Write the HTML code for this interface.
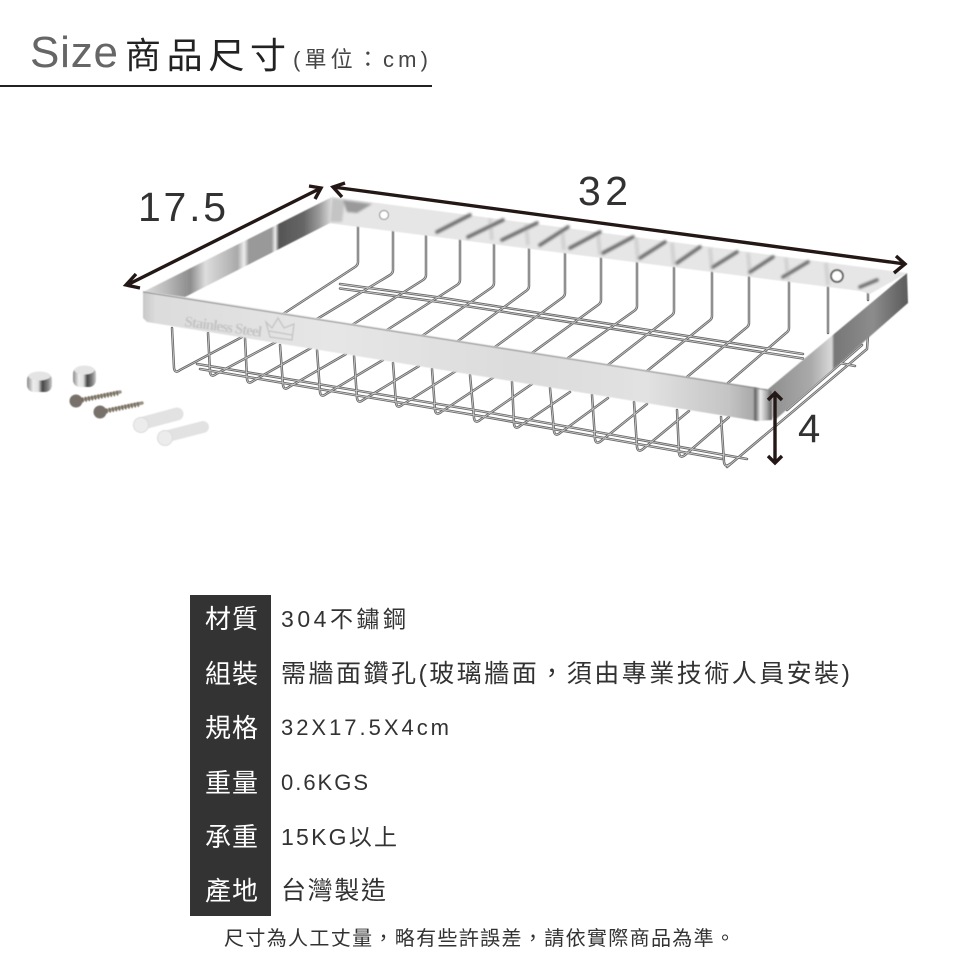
<!DOCTYPE html>
<html lang="zh-Hant">
<head>
<meta charset="utf-8">
<style>
html,body{margin:0;padding:0;background:#fff}
svg{display:block}
.cjk{font-family:"Liberation Sans","Noto Sans CJK TC",sans-serif}
</style>
</head>
<body>
<svg width="960" height="960" viewBox="0 0 960 960" xmlns="http://www.w3.org/2000/svg" class="cjk">
<defs>
<filter id="b1" x="-5%" y="-5%" width="110%" height="110%"><feGaussianBlur stdDeviation="1"/></filter>
<filter id="b0" x="-5%" y="-5%" width="110%" height="110%"><feGaussianBlur stdDeviation=".4"/></filter>
<filter id="bw" x="-5%" y="-5%" width="110%" height="110%"><feGaussianBlur stdDeviation=".2"/></filter>
<filter id="bt" x="-5%" y="-20%" width="110%" height="140%"><feGaussianBlur stdDeviation=".25"/></filter>
<linearGradient id="front" x1="143" y1="0" x2="773" y2="0" gradientUnits="userSpaceOnUse">
<stop offset="0" stop-color="#c8c8c8"/><stop offset=".02" stop-color="#dcdcdc"/><stop offset=".3" stop-color="#e6e6e6"/>
<stop offset=".6" stop-color="#dcdcdc"/><stop offset=".8" stop-color="#e2e2e2"/><stop offset=".93" stop-color="#c4c4c4"/>
<stop offset=".968" stop-color="#aaa"/><stop offset=".972" stop-color="#666"/><stop offset=".98" stop-color="#eee"/>
<stop offset=".99" stop-color="#aaa"/><stop offset=".997" stop-color="#666"/><stop offset="1" stop-color="#ccc"/>
</linearGradient>
<linearGradient id="right" x1="770" y1="0" x2="907" y2="0" gradientUnits="userSpaceOnUse">
<stop offset="0" stop-color="#8f8f8f"/><stop offset=".3" stop-color="#aaa"/><stop offset=".45" stop-color="#d8d8d8"/>
<stop offset=".47" stop-color="#777"/><stop offset=".75" stop-color="#8c8c8c"/><stop offset="1" stop-color="#5c5c5c"/>
</linearGradient>
<linearGradient id="left" x1="143" y1="0" x2="332" y2="0" gradientUnits="userSpaceOnUse">
<stop offset="0" stop-color="#ddd"/><stop offset=".12" stop-color="#bbb"/><stop offset=".25" stop-color="#8c8c8c"/>
<stop offset=".33" stop-color="#ddd"/><stop offset=".5" stop-color="#aaa"/><stop offset=".535" stop-color="#eee"/>
<stop offset=".56" stop-color="#999"/><stop offset=".68" stop-color="#999"/><stop offset=".7" stop-color="#eee"/>
<stop offset=".72" stop-color="#555"/><stop offset=".85" stop-color="#666"/><stop offset=".93" stop-color="#999"/><stop offset="1" stop-color="#ddd"/>
</linearGradient>
<linearGradient id="cap" x1="0" y1="0" x2="1" y2="0">
<stop offset="0" stop-color="#8a8a8a"/><stop offset=".25" stop-color="#eee"/><stop offset=".45" stop-color="#e0e0e0"/><stop offset=".62" stop-color="#444"/><stop offset=".85" stop-color="#888"/><stop offset="1" stop-color="#ccc"/>
</linearGradient>
<g id="wires" fill="none" stroke-linecap="round" stroke-linejoin="round">
<!-- bottom rails -->
<path d="M197 364L480 411 747 459M200 369L480 416 722 459"/>
<!-- side rail -->
<path d="M727 467L867 349 868 335M787 410L862 345M840 363L855 366"/>
<!-- front U wires -->
<path d="M172 328L174 368Q175 374 180 370L242 337"/>
<path d="M208 333L210 372Q211 378 216 374L276 342"/>
<path d="M245 338L247 379Q248 385 253 381L311 348"/>
<path d="M280 345L283 385Q284 391 289 387L346 354"/>
<path d="M317 350L320 392Q321 398 326 394L383 360"/>
<path d="M354 356L357 398Q358 404 363 400L419 366"/>
<path d="M393 363L396 403Q397 409 402 405L456 371"/>
<path d="M432 369L435 410Q436 416 441 412L494 377"/>
<path d="M470 375L474 418Q475 424 480 420L532 384"/>
<path d="M512 382L514 424Q515 430 520 426L570 392"/>
<path d="M550 388L554 431Q555 437 560 433L608 398"/>
<path d="M592 395L595 439Q596 445 601 441L647 404"/>
<path d="M634 402L637 447Q638 453 643 449L689 411"/>
<path d="M677 410L679 453Q680 459 685 455L729 417"/>
<path d="M721 417L724 462Q725 468 730 464"/>
<!-- floor rails -->
<path d="M340 284L443 298 803 354M340 288.500L443 302.500 803 358.500"/>
<!-- back wires -->
<path d="M358 222L358 262Q358 265 355 267L283 314"/>
<path d="M393 229L393 270Q393 273 390 275L317 319"/>
<path d="M426 233L426 275Q426 278 423 280L352 325"/>
<path d="M460 238L460 280Q460 283 457 285L387 330"/>
<path d="M494 243L494 283Q494 286 491 288L422 336"/>
<path d="M529 247L529 286Q529 289 526 291L458 341"/>
<path d="M565 252L565 293Q565 296 562 298L495 347"/>
<path d="M601 257L601 300Q601 303 598 305L532 353"/>
<path d="M637 262L637 306Q637 309 634 311L568 358"/>
<path d="M674 267L674 311Q674 314 671 316L608 365"/>
<path d="M712 272L712 316Q712 319 709 321L647 371"/>
<path d="M749 277L749 323Q749 326 746 328L687 377"/>
<path d="M789 282L789 328Q789 331 786 333L728 383"/>
<path d="M828 287L828 333"/>
<path d="M868 292L868 300"/>
</g>
</defs>

<g filter="url(#bt)">
<!-- title -->
<text x="30" y="67" font-size="44" fill="#666" textLength="88" lengthAdjust="spacing">Size</text>
<text x="125" y="68" font-size="36" fill="#222" textLength="161" lengthAdjust="spacing">商品尺寸</text>
<text x="293" y="67" font-size="22" fill="#444" textLength="135" lengthAdjust="spacing">(單位：cm)</text>
</g>
<rect x="0" y="85" width="432" height="2" fill="#222"/>

<!-- basket wires -->
<g filter="url(#bw)">
<use href="#wires" stroke="#6a6a6a" stroke-width="2.5"/>
<use href="#wires" stroke="#d8d8d8" stroke-width=".7"/>
</g>

<g filter="url(#b0)">
<!-- back bar -->
<polygon points="332,197 907,273 870,294 860,291 328,223" fill="#e6e6e6"/>
<g filter="url(#b1)">
<polygon points="332,198 345,200 342,222 330,222" fill="#c4c4c4"/>
<polygon points="343,200 372,204 357,213 347,212" fill="#9a9a9a"/>
<g stroke="#d2d2d2" stroke-width="4" fill="none">
<path d="M490 219L492 240M526 224L528 245M562 228L564 250M598 233L600 255M636 238L638 260M672 243L674 265M710 248L712 270M748 253L750 275M786 258L788 280M826 263L828 285"/>
</g>
<g stroke="#6e6e6e" stroke-width="3.6" fill="none" stroke-linecap="round">
<path d="M437 232L470 215M468 237L503 220M502 240L537 223M540 245L568 227M570 248L600 232M603 253L633 237M640 258L665 242M677 263L700 247M713 267L737 252M750 272L773 257M783 277L808 262M860 287L877 280"/>
</g>
</g>
<circle cx="384" cy="215" r="4.5" fill="#fff" stroke="#999" stroke-width="1.2"/>
<circle cx="837" cy="276" r="6" fill="#fff" stroke="#666" stroke-width="2"/>

<!-- left bar -->
<polygon points="143,292 332,197 330,223 185,297" fill="url(#left)"/>
<!-- right bar -->
<polygon points="767,390 907,273 908,303 775,420 772,400" fill="url(#right)"/>
<!-- front bar -->
<polygon points="143,291 185,297 767,389 773,392 775,412 772,420 757,421 147,322 143,318" fill="url(#front)"/>
<path d="M143 292L767 390" stroke="#8a8a8a" stroke-width="1" fill="none"/>

<!-- embossed label -->
<text x="184" y="326" font-size="15" font-family="Liberation Serif,serif" font-weight="bold" fill="#c4c4c4" transform="rotate(8 184 326)" textLength="78" lengthAdjust="spacing">Stainless Steel</text>
<path d="M270 337L266 322 272 328 278 318 284 328 294 324 292 340ZM269 331L292 335" fill="none" stroke="#c4c4c4" stroke-width="1.3"/>

<!-- caps -->
<rect x="27" y="373" width="25" height="19" rx="7" fill="url(#cap)"/>
<ellipse cx="39.5" cy="376" rx="11" ry="4.5" fill="#e4e4e4"/>
<rect x="73" y="367" width="23" height="20" rx="7" fill="url(#cap)"/>
<ellipse cx="84.5" cy="370" rx="10" ry="4.5" fill="#e4e4e4"/>

<!-- screws -->
<path d="M76 401L120 392" stroke="#9a9284" stroke-width="3.4" stroke-linecap="round"/>
<path d="M82 400L118 393" stroke="#6f685c" stroke-width="5" stroke-dasharray="1.4 1.8"/>
<ellipse cx="76" cy="401" rx="6.5" ry="6.5" fill="#77716a"/>
<path d="M100 412L142 403" stroke="#9a9284" stroke-width="3.4" stroke-linecap="round"/>
<path d="M106 411L140 404" stroke="#6f685c" stroke-width="5" stroke-dasharray="1.4 1.8"/>
<ellipse cx="100" cy="412" rx="6.5" ry="6.5" fill="#77716a"/>

<!-- wall plugs -->
<path d="M140 424L177 414" stroke="#e2e2e2" stroke-width="13" stroke-linecap="round"/>
<circle cx="141" cy="425" r="7.5" fill="#ececec" stroke="#dadada"/>
<path d="M164 437L203 427" stroke="#e2e2e2" stroke-width="12" stroke-linecap="round"/>
<circle cx="165" cy="438" r="7.5" fill="#ececec" stroke="#dadada"/>
</g>

<!-- dimension arrows -->
<g fill="none" stroke="#231815" stroke-width="3.4">
<path d="M127 285L321 188"/>
<path d="M136 274L126 285 140 288"/>
<path d="M309 186L321 188 315 199"/>
<path d="M333 187L905 264"/>
<path d="M345 183L333 187 342 197"/>
<path d="M896 256L905 264 894 273"/>
<path d="M775 393V463"/>
<path d="M768 400L775 393 782 400"/>
<path d="M768 456L775 463 782 456"/>
</g>
<g filter="url(#bt)">
<text x="138" y="221" font-size="41" fill="#333" textLength="88" lengthAdjust="spacing">17.5</text>
<text x="578" y="205" font-size="41" fill="#333" textLength="50" lengthAdjust="spacing">32</text>
<text x="798" y="442" font-size="40" fill="#333">4</text>
</g>

<!-- table -->
<rect x="190" y="595" width="81" height="321" fill="#333"/>
<g font-size="26" fill="#fff" filter="url(#bt)">
<text x="205" y="628" textLength="53" lengthAdjust="spacing">材質</text>
<text x="205" y="683" textLength="53" lengthAdjust="spacing">組裝</text>
<text x="205" y="737" textLength="53" lengthAdjust="spacing">規格</text>
<text x="205" y="792" textLength="53" lengthAdjust="spacing">重量</text>
<text x="205" y="846" textLength="53" lengthAdjust="spacing">承重</text>
<text x="205" y="900" textLength="53" lengthAdjust="spacing">產地</text>
</g>
<g fill="#333" filter="url(#bt)">
<text x="281" y="627" font-size="23" textLength="125" lengthAdjust="spacing">304不鏽鋼</text>
<text x="281" y="682" font-size="25" textLength="569" lengthAdjust="spacing">需牆面鑽孔(玻璃牆面，須由專業技術人員安裝)</text>
<text x="281" y="735" font-size="22" textLength="168" lengthAdjust="spacing">32X17.5X4cm</text>
<text x="281" y="790" font-size="22" textLength="87" lengthAdjust="spacing">0.6KGS</text>
<text x="281" y="845" font-size="23" textLength="116" lengthAdjust="spacing">15KG以上</text>
<text x="281" y="899" font-size="25" textLength="105" lengthAdjust="spacing">台灣製造</text>
<text x="224" y="945" font-size="20" textLength="511" lengthAdjust="spacing">尺寸為人工丈量，略有些許誤差，請依實際商品為準。</text>
</g>
</svg>
</body>
</html>
